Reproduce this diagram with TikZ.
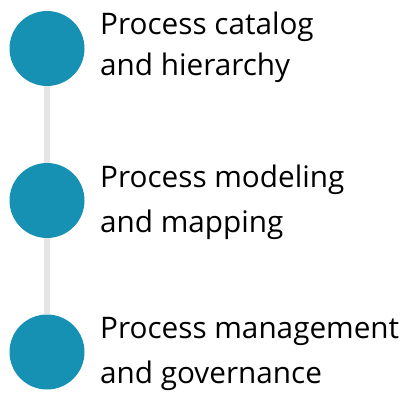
\documentclass[tikz,border=0pt]{standalone}
\usepackage{fontspec}
\setmainfont{Open Sans}
\definecolor{stepblue}{RGB}{22,145,179}
\definecolor{railgray}{RGB}{229,229,229}
\begin{document}
\begin{tikzpicture}[x=1pt,y=-1pt,font=\fontsize{29.7}{45}\selectfont]
        \tikzset{dot/.style={circle, fill=stepblue, minimum size=75pt, inner sep=0pt},
                 label/.style={anchor=base west, inner sep=0pt, align=left}}
        \useasboundingbox (0,0) rectangle (401,393);
        \node[dot] (c1) at (47,48.5) {};
        \node[dot] (c2) at (47,200.5) {};
        \node[dot] (c3) at (47,352) {};
        \draw[railgray, line width=6pt] (c1) -- (c2);
        \draw[railgray, line width=6pt] (c2) -- (c3);
        \node[label, font=\fontsize{29.7}{41}\selectfont] (t1) at (100,76) {Process catalog\\and hierarchy};
        \node[label] (t2) at (100,232) {Process modeling\\and mapping};
        \node[label] (t3) at (100,383) {Process management\\and governance};
    \end{tikzpicture}
\end{document}
